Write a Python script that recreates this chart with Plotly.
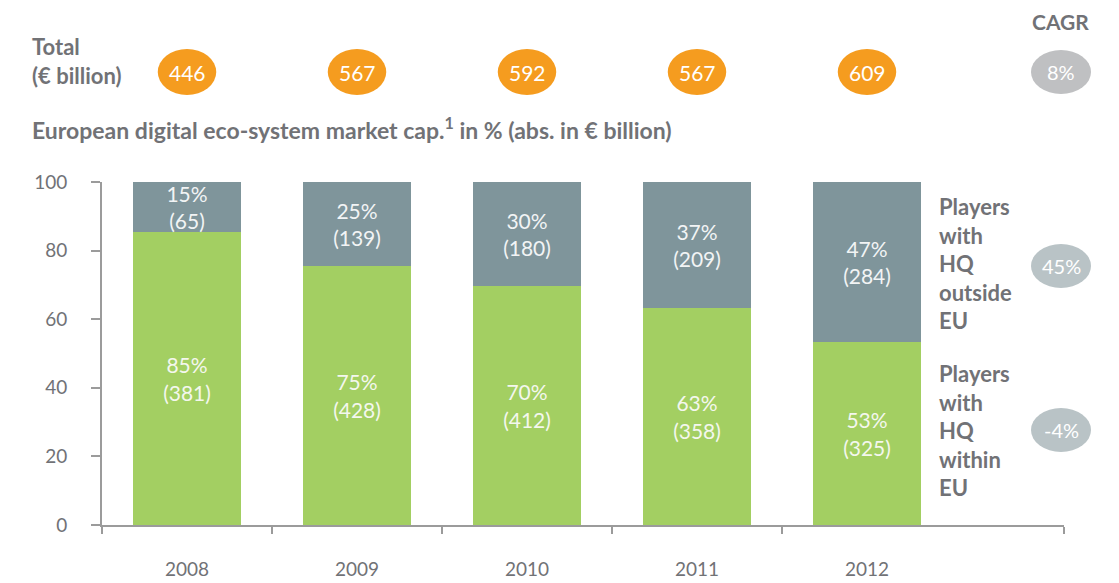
import plotly.graph_objects as go

years = ["2008", "2009", "2010", "2011", "2012"]
totals = [446, 567, 592, 567, 609]
within_abs = [381, 428, 412, 358, 325]
outside_abs = [65, 139, 180, 209, 284]
within_pct = [85, 75, 70, 63, 53]
outside_pct = [15, 25, 30, 37, 47]
cagr_total = "8%"
cagr_outside = "45%"
cagr_within = "-4%"
y_ticks = [0, 20, 40, 60, 80, 100]

FONT = "Lato"
GRAY_TXT = "#717276"
AXIS = "#9b9b9b"
GREEN = "#A3CF62"
TEAL = "#7F959B"
ORANGE = "#F59C1F"

# page body adds an 8px offset; compensate
OFF = 8
W, H = 1119, 583
ML = 102 - OFF
MT = 2
MB = H - (525 - OFF)
MR = W - (1064 - OFF)
PW, PH = W - ML - MR, H - MT - MB
X_END = (1064 - 102) / 170 - 0.5


def px(x):
    return (x - OFF - ML) / PW


def py(y):
    return (H - MB - (y - OFF)) / PH


xs = list(range(len(years)))
within_h = [a / t * 100 for a, t in zip(within_abs, totals)]
outside_h = [100 - v for v in within_h]

fig = go.Figure()
fig.add_trace(go.Bar(
    x=xs, y=within_h, marker_color=GREEN, marker_line_width=0, width=0.635,
    text=[f"{p}%<br>({a})" for p, a in zip(within_pct, within_abs)],
    textposition="inside", insidetextanchor="middle", constraintext="none", textangle=0,
    textfont=dict(family=FONT, size=21, color="#f4f7ee"), hoverinfo="skip"))
fig.add_trace(go.Bar(
    x=xs, y=outside_h, marker_color=TEAL, marker_line_width=0, width=0.635,
    text=[f"{p}%<br>({a})" for p, a in zip(outside_pct, outside_abs)],
    textposition="inside", insidetextanchor="middle", constraintext="none", textangle=0,
    textfont=dict(family=FONT, size=21, color="#f2f4f5"), hoverinfo="skip"))

shapes = []
annotations = []
# Header row: totals in orange ellipses
for i, t in enumerate(totals):
    shapes.append(dict(type="circle", xref="x", yref="paper",
                       x0=i - 0.172, x1=i + 0.172, y0=py(95), y1=py(49),
                       fillcolor=ORANGE, line_width=0, layer="above"))
    annotations.append(dict(x=i, y=py(72), xref="x", yref="paper", text=str(t),
                            xanchor="center", yanchor="middle",
                            showarrow=False, font=dict(family=FONT, size=21, color="white")))

# CAGR ellipses
for text, yc, col in [(cagr_total, 72, "#bfc0c2"), (cagr_outside, 266, "#b9c3c6"), (cagr_within, 430, "#b9c3c6")]:
    shapes.append(dict(type="circle", xref="paper", yref="paper",
                       x0=px(1031), x1=px(1091), y0=py(yc + 22), y1=py(yc - 22),
                       fillcolor=col, line_width=0, layer="above"))
    annotations.append(dict(x=px(1061), y=py(yc), xref="paper", yref="paper", text=text,
                            xanchor="center", yanchor="middle",
                            showarrow=False, font=dict(family=FONT, size=20, color="white")))

annotations.append(dict(x=px(1060), y=py(22), xref="paper", yref="paper", text="<b>CAGR</b>",
                        xanchor="center", yanchor="middle",
                        showarrow=False, font=dict(family=FONT, size=21, color=GRAY_TXT)))
annotations.append(dict(x=px(30), y=py(61), xref="paper", yref="paper",
                        text="<b>Total</b><br><b>(€ billion)</b>", xanchor="left", yanchor="middle",
                        align="left", showarrow=False,
                        font=dict(family=FONT, size=22, color=GRAY_TXT)))
annotations.append(dict(x=px(30), y=py(128), xref="paper", yref="paper",
                        text="<b>European digital eco-system market cap.<sup>1</sup> in % (abs. in € billion)</b>",
                        xanchor="left", yanchor="middle", showarrow=False,
                        font=dict(family=FONT, size=23, color=GRAY_TXT)))
annotations.append(dict(x=px(937), y=py(263), xref="paper", yref="paper",
                        text="<b>Players<br>with<br>HQ<br>outside<br>EU</b>",
                        xanchor="left", yanchor="middle", align="left", showarrow=False,
                        font=dict(family=FONT, size=22, color=GRAY_TXT)))
annotations.append(dict(x=px(937), y=py(430), xref="paper", yref="paper",
                        text="<b>Players<br>with<br>HQ<br>within<br>EU</b>",
                        xanchor="left", yanchor="middle", align="left", showarrow=False,
                        font=dict(family=FONT, size=22, color=GRAY_TXT)))

fig.update_layout(
    width=W, height=H, margin=dict(l=ML, r=MR, t=MT, b=MB, autoexpand=False),
    paper_bgcolor="white", plot_bgcolor="white",
    barmode="stack", showlegend=False, bargap=0,
    font=dict(family=FONT, color=GRAY_TXT),
    shapes=shapes, annotations=annotations,
    xaxis=dict(range=[-0.5, X_END], tickmode="array", tickvals=xs, ticktext=years,
               ticks="", showgrid=False, zeroline=False, automargin=False,
               showline=True, linecolor=AXIS, linewidth=2,
               tickfont=dict(family=FONT, size=19, color=GRAY_TXT),
               ticklabelstandoff=26,
               minor=dict(tickmode="array", tickvals=[-0.5, 0.5, 1.5, 2.5, 3.5, X_END],
                          ticks="outside", ticklen=7, tickwidth=2, tickcolor=AXIS, showgrid=False)),
    yaxis=dict(range=[0, 100], domain=[0, py(182)], tickmode="array", tickvals=y_ticks,
               ticks="outside", ticklen=9, tickwidth=2, tickcolor=AXIS, automargin=False,
               showgrid=False, zeroline=False, showline=True, linecolor=AXIS, linewidth=2,
               tickfont=dict(family=FONT, size=19, color=GRAY_TXT),
               ticklabelstandoff=20),
)

fig.write_html("out.html")
